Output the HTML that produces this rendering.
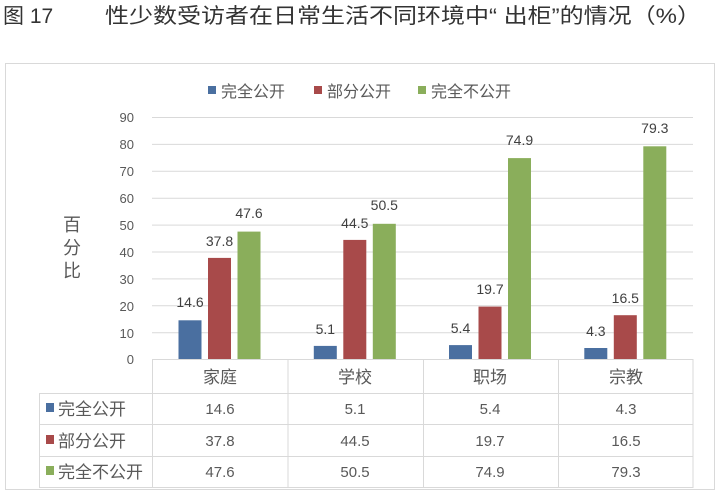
<!DOCTYPE html>
<html><head><meta charset="utf-8"><style>
html,body{margin:0;padding:0;background:#fff;}
svg{display:block;font-family:"Liberation Sans","Noto Sans CJK SC",sans-serif;}
</style></head><body>
<svg width="719" height="503" viewBox="0 0 719 503" xmlns="http://www.w3.org/2000/svg">
<text x="3" y="23" font-size="21" fill="#333">图 17</text>
<text x="105" y="23" font-size="21" fill="#333" textLength="596" lengthAdjust="spacingAndGlyphs">性少数受访者在日常生活不同环境中“ 出柜”的情况（%）</text>
<rect x="5.5" y="63.5" width="709" height="426" fill="#fff" stroke="#d9d9d9"/>
<!-- legend -->
<g font-size="16" fill="#595959">
<rect x="208" y="86" width="8" height="8" fill="#4a6fa0"/><text x="221" y="97">完全公开</text>
<rect x="314" y="86" width="8" height="8" fill="#a84a4a"/><text x="327" y="97">部分公开</text>
<rect x="418" y="86" width="8" height="8" fill="#8aae5b"/><text x="431" y="97">完全不公开</text>
</g>
<!-- gridlines -->
<g stroke="#d9d9d9" stroke-width="1">
<line x1="152" x2="693" y1="117.5" y2="117.5"/>
<line x1="152" x2="693" y1="144.4" y2="144.4"/>
<line x1="152" x2="693" y1="171.3" y2="171.3"/>
<line x1="152" x2="693" y1="198.2" y2="198.2"/>
<line x1="152" x2="693" y1="225.1" y2="225.1"/>
<line x1="152" x2="693" y1="252" y2="252"/>
<line x1="152" x2="693" y1="278.9" y2="278.9"/>
<line x1="152" x2="693" y1="305.8" y2="305.8"/>
<line x1="152" x2="693" y1="332.7" y2="332.7"/>
</g>
<g font-size="13" fill="#595959" text-anchor="end">
<text x="134" y="122">90</text><text x="134" y="149">80</text><text x="134" y="176">70</text>
<text x="134" y="203">60</text><text x="134" y="230">50</text><text x="134" y="257">40</text>
<text x="134" y="284">30</text><text x="134" y="311">20</text><text x="134" y="338">10</text>
<text x="134" y="364">0</text>
</g>
<g font-size="18" fill="#595959" text-anchor="middle">
<text x="72" y="231">百</text><text x="72" y="254">分</text><text x="72" y="277">比</text>
</g>
<!-- bars: center cols 219.6, 354.9, 490.1, 625.4 ; 0 at 359.6 ; 2.69/unit -->
<g>
<rect x="178.5" y="320.3" width="23" height="39.3" fill="#4a6fa0"/>
<rect x="208" y="257.9" width="23" height="101.7" fill="#a84a4a"/>
<rect x="237.5" y="231.6" width="23" height="128" fill="#8aae5b"/>
<rect x="313.8" y="345.9" width="23" height="13.7" fill="#4a6fa0"/>
<rect x="343.3" y="239.9" width="23" height="119.7" fill="#a84a4a"/>
<rect x="372.8" y="223.8" width="23" height="135.8" fill="#8aae5b"/>
<rect x="449" y="345.1" width="23" height="14.5" fill="#4a6fa0"/>
<rect x="478.5" y="306.6" width="23" height="53" fill="#a84a4a"/>
<rect x="508" y="158.1" width="23" height="201.5" fill="#8aae5b"/>
<rect x="584.3" y="348" width="23" height="11.6" fill="#4a6fa0"/>
<rect x="613.8" y="315.2" width="23" height="44.4" fill="#a84a4a"/>
<rect x="643.3" y="146.3" width="23" height="213.3" fill="#8aae5b"/>
</g>
<g font-size="14" fill="#404040" text-anchor="middle">
<text x="190" y="307">14.6</text><text x="219.5" y="246">37.8</text><text x="249" y="218">47.6</text>
<text x="325.3" y="334">5.1</text><text x="354.8" y="228">44.5</text><text x="384.3" y="210">50.5</text>
<text x="460.5" y="333">5.4</text><text x="490" y="294">19.7</text><text x="519.5" y="145">74.9</text>
<text x="595.8" y="336">4.3</text><text x="625.3" y="303">16.5</text><text x="654.8" y="133">79.3</text>
</g>
<!-- table -->
<g stroke="#d9d9d9" stroke-width="1" fill="none">
<line x1="152" x2="693" y1="359.5" y2="359.5"/>
<line x1="39" x2="693" y1="393.5" y2="393.5"/>
<line x1="39" x2="693" y1="424.5" y2="424.5"/>
<line x1="39" x2="693" y1="456.5" y2="456.5"/>
<line x1="39" x2="693" y1="487.5" y2="487.5"/>
<line x1="39.5" x2="39.5" y1="393" y2="488"/>
<line x1="152.5" x2="152.5" y1="359" y2="488"/>
<line x1="288" x2="288" y1="359" y2="488"/>
<line x1="423.5" x2="423.5" y1="359" y2="488"/>
<line x1="558.5" x2="558.5" y1="359" y2="488"/>
<line x1="693" x2="693" y1="359" y2="488"/>
</g>
<g font-size="17" fill="#595959" text-anchor="middle">
<text x="220" y="383">家庭</text><text x="355" y="383">学校</text><text x="490" y="383">职场</text><text x="626" y="383">宗教</text>
</g>
<g font-size="15" fill="#595959" text-anchor="middle">
<text x="220" y="414">14.6</text><text x="355" y="414">5.1</text><text x="490" y="414">5.4</text><text x="626" y="414">4.3</text>
<text x="220" y="446">37.8</text><text x="355" y="446">44.5</text><text x="490" y="446">19.7</text><text x="626" y="446">16.5</text>
<text x="220" y="477">47.6</text><text x="355" y="477">50.5</text><text x="490" y="477">74.9</text><text x="626" y="477">79.3</text>
</g>
<g font-size="17" fill="#595959">
<rect x="46" y="403" width="8" height="9" fill="#4a6fa0"/><text x="58" y="415">完全公开</text>
<rect x="46" y="435" width="8" height="9" fill="#a84a4a"/><text x="58" y="447">部分公开</text>
<rect x="46" y="466" width="8" height="9" fill="#8aae5b"/><text x="58" y="478">完全不公开</text>
</g>
</svg>
</body></html>
